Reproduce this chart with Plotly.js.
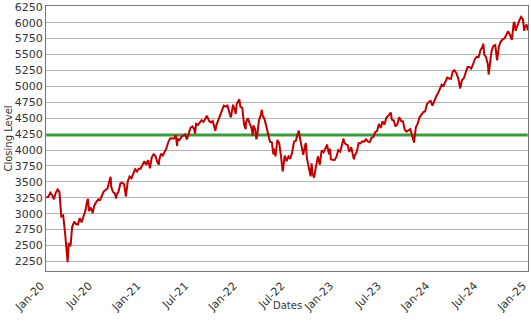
<!DOCTYPE html>
<html><head><meta charset="utf-8">
<script src="https://cdn.plot.ly/plotly-3.0.1.min.js"></script>
<style>html,body{margin:0;padding:0;background:#fff}#c{width:531px;height:321px}</style>
</head><body><div id="c"></div>
<script>
const dates = ["2020-01-02","2020-01-10","2020-01-17","2020-01-24","2020-01-31","2020-02-07","2020-02-14","2020-02-21","2020-02-28","2020-03-06","2020-03-13","2020-03-20","2020-03-23","2020-03-27","2020-04-03","2020-04-09","2020-04-17","2020-04-24","2020-05-01","2020-05-08","2020-05-15","2020-05-22","2020-05-29","2020-06-05","2020-06-08","2020-06-12","2020-06-19","2020-06-26","2020-07-02","2020-07-10","2020-07-17","2020-07-24","2020-07-31","2020-08-07","2020-08-14","2020-08-21","2020-08-28","2020-09-02","2020-09-04","2020-09-11","2020-09-18","2020-09-23","2020-09-25","2020-10-02","2020-10-09","2020-10-16","2020-10-23","2020-10-30","2020-11-06","2020-11-13","2020-11-20","2020-11-27","2020-12-04","2020-12-11","2020-12-18","2020-12-24","2020-12-31",
"2021-01-08","2021-01-15","2021-01-22","2021-01-29","2021-02-05","2021-02-12","2021-02-19","2021-02-26","2021-03-04","2021-03-05","2021-03-12","2021-03-19","2021-03-26","2021-04-01","2021-04-09","2021-04-16","2021-04-23","2021-04-30","2021-05-07","2021-05-12","2021-05-14","2021-05-21","2021-05-28","2021-06-04","2021-06-11","2021-06-18","2021-06-25","2021-07-02","2021-07-09","2021-07-16","2021-07-19","2021-07-23","2021-07-30","2021-08-06","2021-08-13","2021-08-20","2021-08-27","2021-09-02","2021-09-10","2021-09-17","2021-09-24","2021-10-01","2021-10-04","2021-10-08","2021-10-15","2021-10-22","2021-10-29","2021-11-05","2021-11-12","2021-11-19","2021-11-26","2021-12-01","2021-12-03","2021-12-10","2021-12-17","2021-12-20","2021-12-24","2021-12-31",
"2022-01-03","2022-01-07","2022-01-14","2022-01-21","2022-01-27","2022-01-28","2022-02-04","2022-02-11","2022-02-18","2022-02-23","2022-02-25","2022-03-04","2022-03-08","2022-03-11","2022-03-18","2022-03-25","2022-03-29","2022-04-01","2022-04-08","2022-04-14","2022-04-22","2022-04-29","2022-05-06","2022-05-12","2022-05-13","2022-05-20","2022-05-27","2022-06-03","2022-06-10","2022-06-16","2022-06-17","2022-06-24","2022-07-01","2022-07-08","2022-07-15","2022-07-22","2022-07-29","2022-08-05","2022-08-12","2022-08-16","2022-08-19","2022-08-26","2022-09-02","2022-09-09","2022-09-12","2022-09-16","2022-09-23","2022-09-30","2022-10-04","2022-10-07","2022-10-12","2022-10-14","2022-10-21","2022-10-28","2022-11-04","2022-11-11","2022-11-18","2022-11-25","2022-12-01","2022-12-02","2022-12-09","2022-12-13","2022-12-16","2022-12-23","2022-12-30",
"2023-01-06","2023-01-13","2023-01-20","2023-01-27","2023-02-02","2023-02-03","2023-02-10","2023-02-17","2023-02-24","2023-03-03","2023-03-10","2023-03-13","2023-03-17","2023-03-24","2023-03-31","2023-04-07","2023-04-14","2023-04-21","2023-04-28","2023-05-05","2023-05-12","2023-05-19","2023-05-26","2023-06-02","2023-06-09","2023-06-16","2023-06-23","2023-06-30","2023-07-07","2023-07-14","2023-07-21","2023-07-28","2023-07-31","2023-08-04","2023-08-11","2023-08-18","2023-08-25","2023-09-01","2023-09-08","2023-09-15","2023-09-22","2023-09-29","2023-10-06","2023-10-13","2023-10-20","2023-10-27","2023-11-03","2023-11-10","2023-11-17","2023-11-24","2023-12-01","2023-12-08","2023-12-15","2023-12-22","2023-12-29",
"2024-01-05","2024-01-12","2024-01-19","2024-01-26","2024-02-02","2024-02-09","2024-02-16","2024-02-23","2024-03-01","2024-03-08","2024-03-15","2024-03-22","2024-03-28","2024-04-05","2024-04-12","2024-04-19","2024-04-26","2024-05-03","2024-05-10","2024-05-17","2024-05-24","2024-05-31","2024-06-07","2024-06-14","2024-06-21","2024-06-28","2024-07-05","2024-07-12","2024-07-16","2024-07-19","2024-07-26","2024-08-02","2024-08-05","2024-08-09","2024-08-16","2024-08-23","2024-08-30","2024-09-06","2024-09-13","2024-09-20","2024-09-27","2024-10-04","2024-10-11","2024-10-18","2024-10-25","2024-11-01","2024-11-08","2024-11-11","2024-11-15","2024-11-22","2024-11-29","2024-12-06","2024-12-13","2024-12-18","2024-12-20","2024-12-27","2024-12-31"];
const closes = [3258,3265,3330,3295,3226,3328,3380,3338,2954,2972,2711,2305,2237,2541,2489,2790,2875,2837,2831,2930,2864,2955,3044,3194,3232,3041,3098,3009,3130,3185,3225,3216,3271,3351,3373,3397,3508,3580,3427,3341,3319,3237,3298,3348,3477,3484,3465,3270,3510,3585,3558,3638,3699,3663,3709,3703,3756,
3824,3768,3841,3714,3886,3934,3906,3811,3768,3841,3943,3913,3974,4020,4129,4185,4180,4181,4233,4063,4174,4156,4204,4230,4247,4166,4281,4352,4370,4327,4258,4412,4395,4437,4468,4442,4509,4537,4459,4433,4455,4357,4300,4391,4471,4545,4605,4697,4683,4698,4595,4513,4538,4712,4620,4568,4726,4766,
4797,4677,4663,4398,4326,4432,4501,4419,4349,4225,4385,4329,4171,4204,4463,4543,4632,4546,4488,4392,4272,4132,4123,3930,4024,3901,4158,4109,3901,3667,3675,3912,3825,3899,3863,3962,4130,4145,4280,4305,4228,4058,3924,4067,4110,3873,3693,3586,3791,3640,3577,3583,3752,3901,3770,3993,3965,4026,4076,4072,3934,4019,3852,3845,3840,
3895,3999,3973,4070,4180,4136,4090,4079,3970,4045,3862,3855,3917,3971,4109,4105,4138,4133,4169,4136,4124,4192,4205,4282,4299,4410,4348,4450,4399,4505,4536,4582,4589,4478,4464,4370,4406,4515,4457,4450,4320,4288,4309,4327,4224,4117,4358,4415,4514,4559,4595,4604,4719,4755,4770,
4697,4784,4840,4891,4959,5027,5006,5089,5137,5124,5117,5234,5254,5204,5123,4967,5100,5128,5223,5303,5305,5278,5347,5431,5465,5460,5567,5615,5667,5505,5459,5346,5186,5344,5554,5635,5648,5408,5626,5703,5738,5751,5815,5865,5808,5729,5996,6001,5870,5969,6032,6090,6051,5872,5931,5971,5882];
const refLevel = 4235;
const tickDates = ["2020-01-01","2020-07-01","2021-01-01","2021-07-01","2022-01-01","2022-07-01","2023-01-01","2023-07-01","2024-01-01","2024-07-01","2025-01-01"];
const tickLabels = ["Jan-20","Jul-20","Jan-21","Jul-21","Jan-22","Jul-22","Jan-23","Jul-23","Jan-24","Jul-24","Jan-25"];
const yTicks = [2250,2500,2750,3000,3250,3500,3750,4000,4250,4500,4750,5000,5250,5500,5750,6000,6250];

const traces = [
  {x:[dates[0], dates[dates.length-1]], y:[refLevel, refLevel], type:'scatter', mode:'lines',
   line:{color:'#3c9a3c', width:3}, hoverinfo:'skip'},
  {x:dates, y:closes, type:'scatter', mode:'lines', line:{color:'#c00000', width:2}}
];
const fam = '"DejaVu Sans", Verdana, sans-serif';
const layout = {
  width:531, height:321, showlegend:false,
  margin:{l:46, r:3, t:6, b:50},
  paper_bgcolor:'#fff', plot_bgcolor:'#fff', font:{family:fam, size:11, color:'#333'},
  xaxis:{type:'date', range:['2020-01-01','2025-01-01 04:00'], tickvals:tickDates, ticktext:tickLabels,
    tickangle:-45, showgrid:false, showline:true, linecolor:'#777', linewidth:1, mirror:true,
    ticks:'', ticklabeloverflow:'allow', ticklabelstandoff:3, ticklabelshift:-5,
    tickfont:{family:fam, size:11, color:'#333'}},
  yaxis:{range:[2100,6262], tickvals:yTicks, showgrid:true, gridcolor:'#b4b4b4', gridwidth:1,
    showline:true, linecolor:'#777', linewidth:1, mirror:true, ticks:'', zeroline:false,
    tickfont:{family:fam, size:11, color:'#333'},
    title:{text:'Closing Level', font:{family:fam, size:10, color:'#333'}, standoff:0}},
  annotations:[{text:'Dates', xref:'paper', yref:'paper', x:0.5, y:0, yanchor:'middle', yshift:-34,
    showarrow:false, font:{family:fam, size:10, color:'#333'}}]
};
Plotly.newPlot('c', traces, layout, {staticPlot:true, displayModeBar:false});
</script></body></html>
